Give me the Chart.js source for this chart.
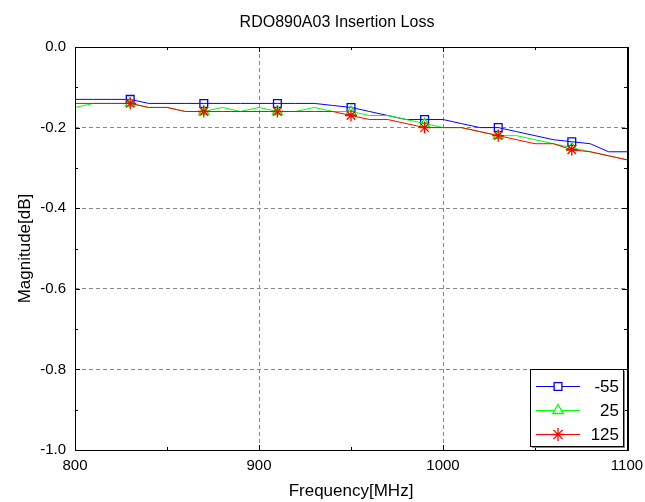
<!DOCTYPE html>
<html>
  <head>
    <script src="https://cdn.jsdelivr.net/npm/chart.js@4"></script>
    <style>
      body { margin: 0; background: #fff; }
      #wrap { width: 645px; height: 502px; }
    </style>
  </head>

  <body>
    <div id="wrap">
      <canvas id="canvas"></canvas>
    </div>
    <script>
      // measured points, every 10 MHz
      const freqs = [800, 810, 820, 830, 840, 850, 860, 870, 880, 890, 900, 910, 920, 930, 940, 950,
        960, 970, 980, 990, 1000, 1010, 1020, 1030, 1040, 1050, 1060, 1070, 1080, 1090, 1100];
      const lossM55 = [-0.13, -0.13, -0.13, -0.13, -0.14, -0.14, -0.14, -0.14, -0.14, -0.14, -0.14, -0.14, -0.14, -0.14, -0.145, -0.15,
        -0.16, -0.17, -0.18, -0.18, -0.18, -0.19, -0.20, -0.20, -0.21, -0.22, -0.23, -0.235, -0.24, -0.26, -0.26];
      const loss25 = [-0.15, -0.14, -0.14, -0.14, -0.15, -0.15, -0.16, -0.16, -0.15, -0.16, -0.15, -0.16, -0.16, -0.15, -0.16, -0.16,
        -0.17, -0.17, -0.18, -0.19, -0.20, -0.20, -0.21, -0.22, -0.22, -0.23, -0.24, -0.25, -0.26, -0.27, -0.28];
      const loss125 = [-0.14, -0.14, -0.14, -0.14, -0.15, -0.15, -0.16, -0.16, -0.16, -0.16, -0.16, -0.16, -0.16, -0.16, -0.16, -0.17,
        -0.18, -0.18, -0.19, -0.20, -0.20, -0.20, -0.21, -0.22, -0.23, -0.24, -0.24, -0.255, -0.26, -0.27, -0.28];
      const seriesNames = ['-55', '25', '125'];
      const markerFreqs = [830, 870, 910, 950, 990, 1030, 1070];
      const xMajorTicks = [800, 900, 1000, 1100];
      const xMinorTicks = [850, 950, 1050];
      const yMajorTicks = [0, -0.2, -0.4, -0.6, -0.8, -1];
      const yMinorTicks = [-0.1, -0.3, -0.5, -0.7, -0.9];

      const FONT = "'Liberation Sans', Arial, sans-serif";

      const pts = (ys) => freqs.map((f, i) => ({ x: f, y: ys[i] }));
      const markerRadius = (r) => (ctx) => (markerFreqs.includes(ctx.raw && ctx.raw.x) ? r : 0);

      // frame, inward ticks, title and the boxed legend
      const decor = {
        id: 'decor',
        afterDraw(chart) {
          const ctx = chart.ctx;
          const a = chart.chartArea;
          const xs = chart.scales.x;
          const ys = chart.scales.y;
          ctx.save();

          ctx.strokeStyle = '#000';
          ctx.lineWidth = 1;
          const seg = (x1, y1, x2, y2) => {
            ctx.beginPath();
            ctx.moveTo(x1, y1);
            ctx.lineTo(x2, y2);
            ctx.stroke();
          };
          xMajorTicks.forEach((v) => {
            const px = Math.round(xs.getPixelForValue(v)) + 0.5;
            seg(px, a.bottom, px, a.bottom - 5);
            seg(px, a.top, px, a.top + 5);
          });
          xMinorTicks.forEach((v) => {
            const px = Math.round(xs.getPixelForValue(v)) + 0.5;
            seg(px, a.bottom, px, a.bottom - 3);
            seg(px, a.top, px, a.top + 3);
          });
          yMajorTicks.forEach((v) => {
            const py = Math.round(ys.getPixelForValue(v)) + 0.5;
            seg(a.left, py, a.left + 5, py);
            seg(a.right, py, a.right - 5, py);
          });
          yMinorTicks.forEach((v) => {
            const py = Math.round(ys.getPixelForValue(v)) + 0.5;
            seg(a.left, py, a.left + 3, py);
            seg(a.right, py, a.right - 3, py);
          });

          // frame
          ctx.strokeRect(a.left + 0.5, a.top + 0.5, a.right - a.left, a.bottom - a.top);
          ctx.lineWidth = 2;
          seg(a.right + 1, a.top, a.right + 1, a.bottom + 1);

          // title
          ctx.fillStyle = '#000';
          ctx.font = '16px ' + FONT;
          ctx.textAlign = 'center';
          ctx.textBaseline = 'alphabetic';
          ctx.fillText('RDO890A03 Insertion Loss', 337, 27);

          // legend box inside lower right corner
          const bx = a.right - 97, by = Math.round(ys.getPixelForValue(-0.8)), bw = 93, bh = 77;
          ctx.fillStyle = '#888';
          ctx.fillRect(bx + 2, by + 2, bw, bh);
          ctx.fillStyle = '#fff';
          ctx.fillRect(bx, by, bw, bh);
          ctx.lineWidth = 1;
          ctx.strokeStyle = '#000';
          ctx.strokeRect(bx + 0.5, by + 0.5, bw, bh);
          chart.data.datasets.forEach((ds, i) => {
            const cy = by + 17 + i * 24;
            ctx.strokeStyle = ds.borderColor;
            ctx.lineWidth = 1;
            seg(bx + 6, cy + 0.5, bx + 50, cy + 0.5);
            ctx.fillStyle = '#fff';
            ctx.lineWidth = 1.3;
            Chart.helpers.drawPoint(ctx, {
              pointStyle: ds.pointStyle,
              radius: ds.legendRadius,
              borderWidth: 1.3,
            }, bx + 28, cy + 0.5);
            ctx.fillStyle = '#000';
            ctx.font = '17px ' + FONT;
            ctx.textAlign = 'right';
            ctx.textBaseline = 'middle';
            ctx.fillText(ds.label, bx + bw - 4, cy + 1);
          });
          ctx.restore();
        },
      };

      const gridColor = (min, max) => (ctx) =>
        ctx.tick && (ctx.tick.value === min || ctx.tick.value === max) ? 'rgba(0,0,0,0)' : '#888';

      new Chart(document.getElementById('canvas'), {
        type: 'line',
        data: {
          datasets: [
            {
              label: seriesNames[0],
              data: pts(lossM55),
              borderColor: '#0000ff',
              borderWidth: 1,
              pointStyle: 'rect',
              pointRadius: markerRadius(5.5),
              legendRadius: 5.5,
              pointBorderColor: '#0000ff',
              pointBackgroundColor: 'rgba(0,0,0,0)',
              pointBorderWidth: 1.3,
              order: 2,
            },
            {
              label: seriesNames[1],
              data: pts(loss25),
              borderColor: '#00ff00',
              borderWidth: 1,
              pointStyle: 'triangle',
              pointRadius: markerRadius(5.5),
              legendRadius: 6,
              pointBorderColor: '#00ff00',
              pointBackgroundColor: 'rgba(0,0,0,0)',
              pointBorderWidth: 1.3,
              order: 1,
            },
            {
              label: seriesNames[2],
              data: pts(loss125),
              borderColor: '#ff0000',
              borderWidth: 1,
              pointStyle: 'star',
              pointRadius: markerRadius(6),
              legendRadius: 6.5,
              pointBorderColor: '#ff0000',
              pointBackgroundColor: 'rgba(0,0,0,0)',
              pointBorderWidth: 1.3,
              order: 0,
            },
          ],
        },
        options: {
          responsive: true,
          maintainAspectRatio: false,
          animation: false,
          layout: { padding: { top: 47, right: 18, left: 0, bottom: 0 } },
          elements: { line: { tension: 0 } },
          plugins: {
            legend: { display: false },
            title: { display: false },
            tooltip: { enabled: false },
          },
          scales: {
            x: {
              type: 'linear',
              min: 800,
              max: 1100,
              afterFit: (s) => {
                s.height = 52;
                s.paddingLeft = 0;
                s.paddingRight = 0;
              },
              ticks: {
                stepSize: 100,
                padding: 7,
                color: '#000',
                font: { family: FONT, size: 15 },
                callback: (v) => String(v),
              },
              grid: { color: gridColor(800, 1100), drawTicks: false, lineWidth: 1 },
              border: { display: false, dash: [4, 3] },
              title: {
                display: true,
                text: 'Frequency[MHz]',
                color: '#000',
                font: { family: FONT, size: 17 },
                padding: { top: 2, bottom: 0 },
              },
            },
            y: {
              min: -1,
              max: 0,
              afterFit: (s) => {
                s.width = 75;
                s.paddingTop = 0;
                s.paddingBottom = 0;
              },
              ticks: {
                stepSize: 0.2,
                padding: 9,
                color: '#000',
                font: { family: FONT, size: 15 },
                callback: (v) => Number(v).toFixed(1),
              },
              grid: { color: gridColor(-1, 0), drawTicks: false, lineWidth: 1 },
              border: { display: false, dash: [4, 3] },
              title: {
                display: true,
                text: 'Magnitude[dB]',
                color: '#000',
                font: { family: FONT, size: 17 },
                padding: { top: 15, bottom: 6 },
              },
            },
          },
        },
        plugins: [decor],
      });
    </script>
  </body>
</html>
